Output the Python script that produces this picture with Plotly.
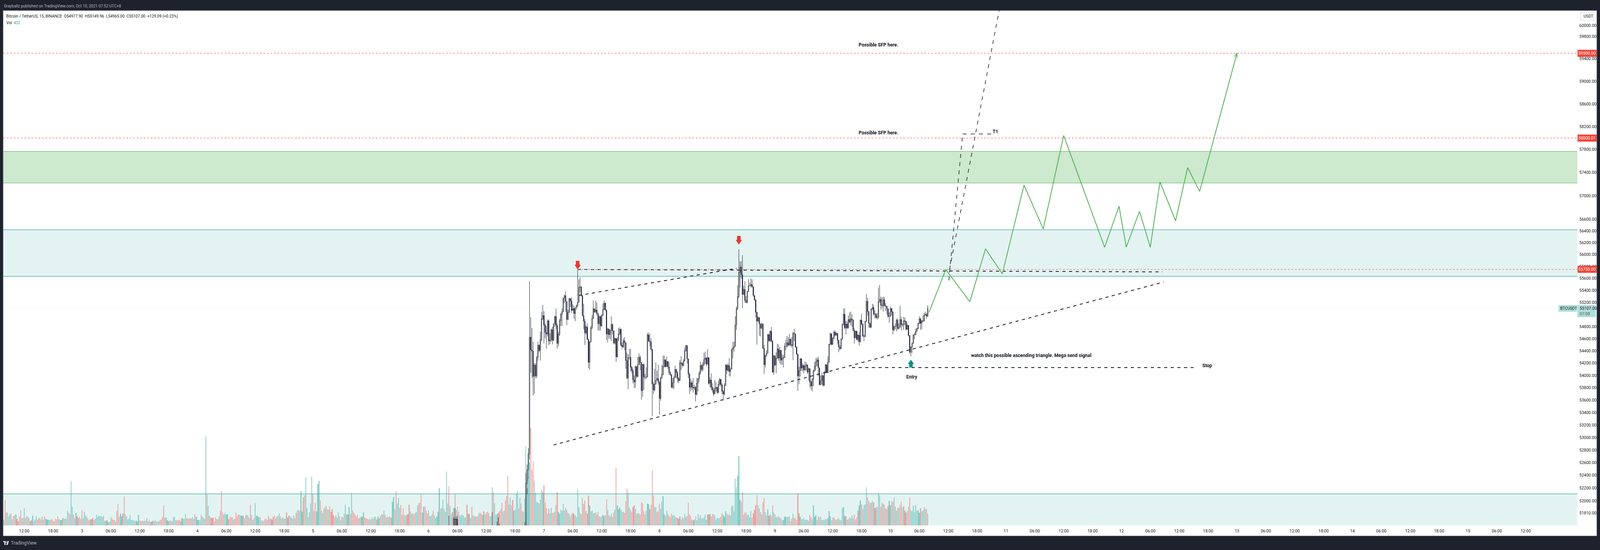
import math
from datetime import datetime, timedelta
import plotly.graph_objects as go

# ---------- chart data ----------
signed_volume_a = [
216,-922,475,-475,331,403,-446,230,-331,-360,403,-245,-158,-317,-562,259,-274,634,-274,-331,
331,259,-158,-187,360,-158,216,346,-216,-259,-274,202,-331,-202,-331,245,216,202,202,-216,
-230,-173,144,-245,-216,-331,230,202,202,-274,259,245,-245,547,-461,418,1627,691,-389,288,
461,-346,-274,317,-245,-576,259,504,374,-317,-245,-187,216,-230,-274,-187,245,389,317,360,
346,346,-302,346,173,173,-187,115,144,302,-245,-202,-202,144,-533,-792,-317,432,331,-446,
-1066,418,331,216,245,389,202,202,187,-158,173,144,389,-187,-158,-173,158,158,-187,274,
-144,-216,130,144,-173,158,-187,144,130,158,-187,-216,-317,-734,288,-288,187,158,187,-158,
-158,317,302,187,-187,-202,-202,158,-274,245,245,418,-259,-259,-245,274,-259,302,-230,-418,
317,202,202,173,389,317,-288,-245,3269,-1138,720,-346,-288,-274,-288,144,-302,-230,-230,331,
-547,-1267,-475,-403,461,403,403,-230,-317,-302,-302,216,-245,-475,-346,-403,-389,360,360,-346,
-274,374,-389,346,-274,-763,389,-202,-274,821,360,346,302,-302,173,187,-158,-230,-245,187,
-360,-274]
signed_volume_b = [
-240,216,-312,-360,-264,312,-360,432,-336,240,298,-240,240,-480,288,-360,336,288,-264,360,
-264,456,-552,576,-552,1248,504,-1042,-1104,1771,648,-312,480,806,1800,-1152,-528,-840,518,1512,
1642,-917,552,456,-624,658,-720,-586,576,-706,-504,-610,-374,-322,360,288,475,-326,187,-312,
-288,432,768,398,-408,677,-418,1195,-566,-480,-384,-336,-384,-264,288,312,-312,480,-288,-264,
-240,216,-240,-216,288,-240,312,312,-216,336,264,-360,-408,408,552,-384,288,-312,-312]
signed_volume_c = [
331,-288,864,1037,-590,-1267,806,1008,648,-749,
-389,-619,389,360,-389,-418,-763,518,418,-446,
-403,-461,490,749,-821,-835,-1152,475,691,-706,
-533,-446,547,-346,346,403,-547,360,274,331,
504,1368,-619,648,950,-605,504,1987,806,-1440,
720,432,-490,648,-1166,576,-691,-504,360,374,
389,360,302,302,-763,-432,418,274,-691,-374,
331,331,-331,-331,446,-461,-432,389,-518,403,
-475,-504,-461,360,331,1411,-1224,821,389,418,
-461,-518,-590,-835,518,547,-922,-1094,-1829,778,
1037,-749,-936,547,590,1166,1267,-634,1022,-806,
-518,504,994,2923,1368,1757,2328,-3586,-2045,-2362,
1642,1210,864,835,-806,950,1325,1238,-1469,-850,
-634,432,-619,446,648,-461,-461,504,-763,-1224,
490,432,576,547,792,547,-648,-562,461,432,
-317,-403,-461,-418,374,302,1325,677,446,-418,
-1008,-792,-922,533,-432,-1094,734,518,562,446,
-446,475,-403,-504,331,-317,331,389,346,-389,
-965,576,-374,331,418,-317,-475,576,-2117,734,
590,662,576,-490,504,-461,-893,-1354,1210,662,
-576,-490,-677,-734,605,-432,461,446,-403,-864,
-821,-533,-403,547,806,778,-605,-763,-2030,-1094,
677,677,-490,-518]
signed_volume_d = [
-806,605,878,1080,403,-360,547,-418,-346,-302,
-432,374,374,331,-288,-274,-245,331,-216,-302,
259,432,317,-346,-850,-403,-346,216,-187,216,
-331,187,418,274,374,-259,259,288,389,202,
-403,-403,418,-331,-418,-418,360,216,288,259,
259,-317,-446,389,317,518,-432,389,-403,360,
691,734,504,1728,1411,1829,2549,936,-878,-1238,
389,-475,-475,389,403,302,533,-288,-446,-576,
-749,-1109,734,-619,-490,403,-864,-1022,490,-360,
590,-346,403,-346,-734,475,403,317,302,-346,
288,-259,187,202,317,317,302,-317,331,-158,
-245,432,-274,-274,-187,-1181,-446,317,230,230,
-274,202,216,202,173,-389,-302,230,734,317,
374,202,-331,-288,317,202,-216,202,245,-230,
274,533,331,-187,-288,302,-230,202,-245,-259,
202,187,634,677,-360,331,-216,230,-302,259,
374,-259,-403,216,-288,-547,734,922,-778,-605,
749,778,1411,-1022,-907,-821,835,893,-850,-634,
662,-691,1195,1109,-691,-850,792,-763,-619,605,
-720,907,749,-893,-864,1037,691,547,-648,648,
-749,-878,-662,706,-547,-475,533,-691,-1022,547,
547,734,490,749,547,562,461,-634,518,562,
677,-605,-605,432]

early_times = ["2021-10-06 04:15","2021-10-06 05:15","2021-10-06 05:30","2021-10-06 05:45","2021-10-06 06:00",
               "2021-10-06 13:15","2021-10-06 14:15","2021-10-06 14:30","2021-10-06 14:45",
               "2021-10-06 20:00","2021-10-06 20:15","2021-10-06 20:30","2021-10-06 20:45"]
early_open  = [51500,51500,51600,51600,51715,51520,51480,51490,51470,51400,51500,52270,52487]
early_high  = [51768,51743,51882,51750,51768,51822,51674,51740,51640,51668,52440,52570,52830]
early_low   = [51380,51400,51450,51450,51400,51350,51350,51350,51350,51300,51480,52100,52350]
early_close = [51450,51715,51715,51715,51500,51450,51420,51430,51420,51500,52270,52487,52738]

first_open = 52738
closes = [
54626,54417,54393,53983,54169,53990,54292,54496,54406,54587,
54926,54982,54824,54701,54675,54893,54561,54583,54749,54572,
54846,54965,54820,54522,54673,54895,55003,55046,55273,55312,
55213,54917,55036,55262,55223,55068,55100,55014,55111,55143,
55202,55450,55461,55312,54982,54889,54695,54794,54587,54212,
54546,54781,54932,55094,55040,55075,55010,54846,54965,54809,
54988,55085,55187,55075,54675,54760,54665,54734,54835,54729,
54529,54604,54302,54593,54684,54755,54492,54464,54568,54535,
54242,53957,54292,54296,54134,54076,53929,53893,54141,53983,
54173,54296,54212,53752,54179,53972,53968,53972,54662,54557,
54550,54425,53860,53763,53860,53920,53951,53890,53625,53957,
54018,54147,54255,54141,54227,54141,54048,54011,53806,53882,
53964,54097,54048,53946,53914,54205,54194,54162,54238,54406,
54486,54270,54022,
53806,53882,53806,53795,53806,53690,53871,53946,54039,54162,
54097,54173,54259,54281,54184,54292,53871,53925,53806,53763,
53698,53785,53806,53720,53860,53936,53849,53741,53698,53839,
54166,54082,54162,54061,54102,54421,54449,54475,54826,55094,
55295,55700,55791,55661,55331,55417,55234,55198,55385,55474,
55478,55499,55461,55316,55241,55036,54885,54949,54842,54773,
54842,54443,54173,54324,54361,54665,54566,54723,54561,54054,
54320,54169,54281,54432,54281,54410,54248,54281,54292,54475,
54475,54535,54492,54593,54501,54486,54690,54680,54464,54345,
53990,54076,54270,54119,54162,54087,54151,54173,54054,54108,
53893,53828,53936,54076,54151,54223,54255,54125,53849,53914,
53999,53839,54043,54173,54043,54216,54507,54680,54507,54604,
54708,54658,54690,54572,54464,54436,54593,54831,55003,54777,
54842,54777,54917,54874,54928,54911,54734,54615,54723,54587,
54658,54550,54906,54842,54643,54637,54885,55219,55046,54852,
54788,55090,55118,55010,55003,54949,54960,55213,55251,55154,
55143,55245,55143,55133,55096,54967,54971,55100,55046,54745,
54798,54803,54906,54766,54788,54917,54831,54824,54895,54885,
54755,54820,54652,54378,54464,54522,54662,54665,54723,54766,
54852,54928,54852,54895,54889,54988,55003,54971,55107]
highs = [
55553,54956,54777,54550,54205,54195,54320,54550,54496,54716,
55042,55159,55053,54852,54814,54917,54917,54690,54766,54798,
54852,54982,55100,54852,54712,54928,55025,55100,55273,55331,
55385,55219,55079,55273,55273,55284,55165,55143,55122,55165,
55743,55586,55618,55467,55327,55176,54928,54820,54852,54604,
54561,54809,54993,55230,55100,55230,55198,55025,54982,54982,
55003,55180,55234,55198,55079,54777,54766,54755,54971,54852,
54734,54615,54604,54626,54777,54788,54766,54539,54604,54626,
54539,54367,54345,54432,54432,54151,54108,53999,54162,54151,
54302,54361,54324,54216,54184,54195,54022,54130,54697,54701,
54686,54604,54432,53893,54108,54212,54076,54173,53914,53979,
54173,54324,54324,54263,54302,54238,54216,54065,54022,53957,
53990,54156,54108,54065,53968,54248,54313,54216,54270,54453,
54496,54496,54270,
54043,53947,53914,53957,53849,53828,53957,53957,54065,54227,
54184,54216,54367,54389,54302,54428,54292,53968,54033,53871,
53806,53925,53893,53817,53914,53957,53946,53871,53763,53871,
54184,54184,54194,54281,54130,54443,54550,54550,54971,55133,
55489,56088,55888,55888,55991,55478,55553,55305,55387,55586,
55532,55597,55586,55467,55316,55251,55046,54971,54939,54852,
54863,54852,54496,54345,54410,54680,54690,54734,54794,54572,
54335,54324,54378,54518,54507,54464,54421,54345,54335,54529,
54583,54647,54626,54680,54604,54626,54712,54766,54680,54475,
54356,54141,54281,54281,54194,54184,54227,54216,54173,54130,
54119,53914,53957,54097,54216,54281,54292,54302,54130,53999,
54043,53999,54065,54184,54184,54313,54518,54701,54690,54626,
54734,54734,54712,54690,54583,54496,54604,54852,55100,55100,
54895,54885,54982,55036,55046,55003,54917,54777,54734,54734,
54669,54712,54917,55014,54852,54669,54895,55338,55273,55057,
54863,55100,55176,55165,55068,55025,55025,55446,55489,55295,
55284,55295,55284,55187,55143,55100,55036,55133,55100,55046,
54820,54852,54928,54939,54852,55148,54960,54852,54960,54949,
54895,54852,54831,54658,54475,54539,54669,54701,54766,54781,
54863,54971,54949,54906,54982,55025,55046,55025,55150]
lows = [
52650,54043,53957,53677,53700,53957,53957,54238,54378,54242,
54561,54906,54522,54604,54436,54637,54496,54507,54550,54507,
54561,54798,54755,54436,54475,54647,54809,54809,55036,55187,
55046,54820,54906,55025,55122,55025,55057,54928,54889,55079,
55122,55198,55370,55295,54971,54755,54496,54669,54583,54119,
54097,54539,54755,54928,55025,55025,54982,54734,54734,54734,
54798,54971,55068,55057,54578,54539,54604,54593,54561,54669,
54507,54507,54222,54292,54561,54658,54475,54432,54453,54410,
54108,53936,53774,54259,54065,54033,53871,53795,53795,53957,
53968,54173,54086,53606,53655,53763,53936,53936,53968,54550,
54475,54410,53340,53698,53741,53849,53914,53849,53366,53590,
53946,53999,54130,54130,54141,54108,54011,53990,53795,53785,
53780,53957,53957,53882,53871,53914,54086,54130,54151,54227,
54389,54194,53957,
53698,53741,53763,53720,53763,53580,53677,53741,53893,54011,
54065,54065,54151,54184,54151,54173,53849,53806,53763,53720,
53664,53698,53741,53698,53720,53828,53817,53698,53593,53677,
53828,54022,54065,53990,53979,54097,54281,54389,54464,54745,
55079,55273,55446,55596,55105,55327,55198,55187,55187,55370,
55467,55446,55446,55295,55230,54949,54501,54885,54647,54637,
54755,54432,54022,54130,54302,54356,54550,54550,54539,54043,
54011,54151,54033,54270,54238,54194,54173,54173,54130,54281,
54410,54453,54475,54486,54475,54453,54248,54561,54453,54335,
53752,53860,53979,54076,54065,54033,54076,54076,54022,53914,
53806,53763,53741,53828,54065,54086,54151,53990,53839,53839,
53849,53817,53828,54033,54033,54043,54205,54496,54486,54496,
54593,54637,54647,54507,54378,54410,54432,54583,54820,54755,
54669,54755,54766,54852,54820,54798,54723,54518,54604,54572,
54550,54486,54539,54820,54626,54561,54626,54874,54982,54777,
54777,54777,55068,54982,54939,54928,54917,54928,55198,55079,
55100,55046,55133,55057,55003,54949,54863,54960,54982,54669,
54723,54755,54723,54745,54755,54788,54734,54798,54745,54820,
54734,54745,54637,54356,54313,54367,54518,54593,54658,54712,
54755,54842,54745,54755,54874,54885,54982,54928,54960]

last_bar_time = "2021-10-10 07:45"

price_ticks = [60000,59800,59400,59000,58600,58200,57800,57400,57000,56600,56400,56200,56000,55800,
               55600,55400,55200,54800,54600,54400,54200,54000,53800,53600,53400,53200,53000,52800,
               52600,52400,52200,52000,51810]
time_tick_values = []
time_tick_labels = []
for day in range(2, 16):
    for hour, lab in ((0, str(day)), (6, "06:00"), (12, "12:00"), (18, "18:00")):
        if (day, hour) != (15, 18):
            time_tick_values.append(f"2021-10-{day:02d} {hour:02d}:00")
            time_tick_labels.append(lab)

sfp_upper, sfp_lower, resistance_level = 59500, 58000.01, 55750
last_price = 55107
green_zone = (57220, 57767)
teal_zone = (55635, 56420)
volume_zone_top = 52108

forecast_times = ["2021-10-10 08:00","2021-10-10 11:30","2021-10-10 16:30","2021-10-10 19:45","2021-10-10 23:15",
                  "2021-10-11 03:45","2021-10-11 07:45","2021-10-11 12:00","2021-10-11 20:30","2021-10-11 23:30",
                  "2021-10-12 01:00","2021-10-12 03:45","2021-10-12 06:00","2021-10-12 08:00","2021-10-12 11:15",
                  "2021-10-12 13:45","2021-10-12 16:15","2021-10-13 00:00"]
forecast_prices = [55032,55750,55210,56097,55677,57183,56435,58044,56124,56821,
                   56124,56734,56124,57237,56574,57486,57076,59500]

dashed_lines = {
    "resistance": (["2021-10-07 07:00", "2021-10-12 08:30"], [55750, 55709]),
    "inner":      (["2021-10-07 07:15", "2021-10-08 16:00"], [55316, 55769]),
    "trend":      (["2021-10-07 02:00", "2021-10-12 08:45"], [52881, 55539]),
    "stop":       (["2021-10-09 16:00", "2021-10-12 15:00"], [54128, 54128]),
}
steep_lines = {
    "t1_up":    (["2021-10-10 12:08", "2021-10-10 15:00"], [55566, 58071]),
    "t1_flat":  (["2021-10-10 15:00", "2021-10-10 21:07"], [58071, 58071]),
    "moon":     (["2021-10-10 12:17", "2021-10-10 23:00"], [55750, 60461]),
}
notes = [
    ("Possible SFP here.", "2021-10-09 21:28", 59649),
    ("Possible SFP here.", "2021-10-09 21:28", 58092),
    ("T1", "2021-10-10 21:45", 58112),
    ("watch this possible ascending triangle. Mega send signal", "2021-10-11 05:13", 54324),
    ("Entry", "2021-10-10 04:26", 53975),
    ("Stop", "2021-10-12 17:50", 54159),
]
down_arrows = [("2021-10-07 07:00", 55750), ("2021-10-08 16:30", 56170)]
up_arrows = [("2021-10-10 04:15", 54257)]

# ---------- layout constants ----------
# The browser viewport is capped at 4096 px wide, so horizontal positions
# measured on the 5339 px reference are scaled by SX.
W, H = 4096, 1408
REF_W = 5339
SX = W / REF_W
L, R, T, B = 10, 5263, 27, 1345
DARK = "#1e222d"
TEAL = "rgba(38,166,154,0.5)"
RED = "rgba(239,83,80,0.5)"
FONT = "Roboto"
px = lambda x: (x - L) / (R - L)
py = lambda y: (B - y) / (B - T)
y_min, y_max = 51616, 60269

signed_volume = signed_volume_a + signed_volume_b + signed_volume_c + signed_volume_d
end = datetime.strptime(last_bar_time, "%Y-%m-%d %H:%M")
n = len(signed_volume)
vol_times = [end - timedelta(minutes=15 * (n - 1 - i)) for i in range(n)]
candle_times = [end - timedelta(minutes=15 * (len(closes) - 1 - i)) for i in range(len(closes))]
opens = [first_open] + closes[:-1]

fig = go.Figure()
fig.add_trace(go.Bar(x=vol_times, y=[abs(v) for v in signed_volume],
                     marker=dict(color=[TEAL if v > 0 else RED for v in signed_volume], line_width=0),
                     width=650000, yaxis="y", hoverinfo="skip"))
fig.add_trace(go.Candlestick(
    x=[datetime.strptime(t, "%Y-%m-%d %H:%M") for t in early_times] + candle_times,
    open=early_open + opens, high=early_high + highs, low=early_low + lows, close=early_close + closes,
    yaxis="y2", whiskerwidth=0, hoverinfo="skip",
    increasing=dict(line=dict(color="#131722", width=1), fillcolor="#ffffff"),
    decreasing=dict(line=dict(color="#131722", width=1), fillcolor="#1a1a7e")))
for xs, ys in dashed_lines.values():
    fig.add_trace(go.Scatter(x=xs, y=ys, yaxis="y2", mode="lines", hoverinfo="skip",
                             line=dict(color="#131722", width=2, dash="8px,9px")))
for xs, ys in steep_lines.values():
    fig.add_trace(go.Scatter(x=xs, y=ys, yaxis="y2", mode="lines", hoverinfo="skip",
                             line=dict(color="#131722", width=1.5, dash="10px,11px")))
fig.add_trace(go.Scatter(x=forecast_times, y=forecast_prices, yaxis="y2", mode="lines", hoverinfo="skip",
                         line=dict(color="#4caf50", width=2)))

shapes = [
    dict(type="rect", xref="paper", yref="paper", x0=px(10), x1=px(5328), y0=py(1372), y1=py(27),
         fillcolor="#ffffff", line=dict(color="#787b86", width=1), layer="below"),
]
def zone(lo, hi, fill, edge, top_only=False):
    shapes.append(dict(type="rect", xref="paper", yref="y2", x0=0, x1=1, y0=lo, y1=hi,
                       fillcolor=fill, line_width=0, layer="below"))
    levels = [hi] if top_only else [lo, hi]
    for lv in levels:
        shapes.append(dict(type="line", xref="paper", yref="y2", x0=0, x1=1, y0=lv, y1=lv,
                           line=dict(color=edge, width=1), layer="below"))
zone(*green_zone, "rgba(76,175,80,0.28)", "#4caf50")
zone(*teal_zone, "rgba(0,150,136,0.11)", "#009688")
zone(y_min, volume_zone_top, "rgba(0,150,136,0.11)", "#009688", top_only=True)
for lv in (sfp_upper, sfp_lower):
    shapes.append(dict(type="line", xref="paper", yref="y2", x0=0, x1=1, y0=lv, y1=lv,
                       line=dict(color="#f44336", width=1, dash="5px,4px")))
shapes.append(dict(type="line", xref="x", yref="y2", x0="2021-10-07 07:00", x1="2021-10-15 22:44",
                   y0=resistance_level, y1=resistance_level, line=dict(color="#f44336", width=1, dash="5px,4px")))
shapes.append(dict(type="line", xref="paper", yref="y2", x0=0, x1=1, y0=last_price, y1=last_price,
                   line=dict(color="#b2dfdb", width=1, dash="1px,2px")))
for t, p in down_arrows:
    shapes.append(dict(type="path", xref="x", yref="y2", xsizemode="pixel", ysizemode="pixel",
                       xanchor=t, yanchor=p, fillcolor="#e53935", line_width=0,
                       path="M-4.6,22 L4.6,22 L4.6,12 L8,12 L0,0 L-8,12 L-4.6,12 Z"))
for t, p in up_arrows:
    shapes.append(dict(type="path", xref="x", yref="y2", xsizemode="pixel", ysizemode="pixel",
                       xanchor=t, yanchor=p, fillcolor="#009688", line_width=0,
                       path="M-4.6,-20 L4.6,-20 L4.6,-11 L8,-11 L0,0 L-8,-11 L-4.6,-11 Z"))
shapes.append(dict(type="path", xref="x", yref="y2", xsizemode="pixel", ysizemode="pixel",
                   xanchor=forecast_times[-1], yanchor=forecast_prices[-1],
                   line=dict(color="#4caf50", width=1.5), path="M1,-12 L0,0 L-6.5,-8.5"))
# TradingView logo glyph in the footer
shapes.append(dict(type="path", xref="paper", yref="paper", xsizemode="pixel", ysizemode="pixel",
                   xanchor=px(10), yanchor=py(1395), fillcolor="#d1d4dc", line_width=0,
                   path="M0,10 L6.5,10 L6.5,0 L3,0 L3,7 L0,7 Z M11,10 L15,10 L12,0 L8,0 Z M7,8.5 L9.5,8.5 L9.5,6 L7,6 Z"))

ann = []
def label(text, x, y, size=10.5, color="#131722", anchor="left", **kw):
    ann.append(dict(text=text, xref="paper", yref="paper", x=px(x), y=py(y), showarrow=False,
                    xanchor=anchor, yanchor="middle", font=dict(family=FONT, size=size, color=color), **kw))
label("Grayballz published on TradingView.com, Oct 10, 2021 07:52 UTC+8", 10, 15, 10, "#b2b5be")
label("Bitcoin / TetherUS, 15, BINANCE\u00a0\u00a0O54977.90\u00a0\u00a0H55149.96\u00a0\u00a0L54965.00\u00a0\u00a0C55107.00\u00a0\u00a0+129.09 (+0.23%)", 18, 42, 10)
label("Vol", 18, 59, 10)
label("432", 42, 59, 10, "#26a69a")
label("TradingView", 33, 1390, 12, "#b2b5be")

for text, t, p in notes:
    ann.append(dict(text=f"<b>{text}</b>", xref="x", yref="y2", x=t, y=math.log10(p), showarrow=False,
                    xanchor="center", yanchor="middle", font=dict(family=FONT, size=12, color="#131722")))
def tag(text, p, fill, color="#ffffff"):
    ann.append(dict(text=text, xref="paper", yref="y2", x=px(5263), y=math.log10(p), showarrow=False,
                    xanchor="left", yanchor="middle", width=62 * SX, height=17, bgcolor=fill, borderpad=0,
                    align="center", font=dict(family=FONT, size=10.5, color=color)))
tag("59500.00", sfp_upper, "#f44336")
tag("58000.01", sfp_lower, "#f44336")
tag("55750.00", resistance_level, "#f44336")
shapes.append(dict(type="rect", xref="paper", yref="paper", x0=px(5263), x1=px(5325), y0=py(812), y1=py(781),
                   fillcolor="#b2dfdb", line_width=0, layer="above"))
shapes.append(dict(type="rect", xref="paper", yref="paper", x0=px(5200), x1=px(5262), y0=py(798), y1=py(781),
                   fillcolor="#b2dfdb", line_width=0, layer="above"))
shapes.append(dict(type="rect", xref="paper", yref="paper", x0=px(5274), x1=px(5317), y0=py(52), y1=py(33),
                   fillcolor="#ffffff", line=dict(color="#d1d4dc", width=1), layer="above"))
label("55107.00", 5268, 789)
label("07:08", 5268, 803, 10.5, "#4a5a58")
label("BTCUSDT", 5203, 789, 10)
label("USDT", 5281, 42, 10)

fig.update_layout(
    width=W, height=H, autosize=False, showlegend=False,
    paper_bgcolor=DARK, plot_bgcolor="#ffffff", bargap=0,
    margin=dict(l=L * SX, r=(REF_W - R) * SX, t=T, b=H - B, pad=0),
    hovermode=False, shapes=shapes, annotations=ann,
    xaxis=dict(type="date", range=["2021-10-02 07:37", "2021-10-15 22:44"], showgrid=False, zeroline=False,
               rangeslider=dict(visible=False), tickmode="array", tickvals=time_tick_values,
               ticktext=time_tick_labels, ticks="", ticklabelstandoff=6,
               tickfont=dict(family=FONT, size=10.5, color="#131722"), showline=False),
    yaxis=dict(range=[0, 14.4 * (B - T)], visible=False, fixedrange=True),
    yaxis2=dict(type="log", range=[math.log10(y_min), math.log10(y_max)], overlaying="y", side="right",
                showgrid=False, zeroline=False, tickmode="array", tickvals=price_ticks,
                ticktext=[f"{v:.2f}" for v in price_ticks], ticks="", ticklabelstandoff=4,
                tickfont=dict(family=FONT, size=10.5, color="#131722"), showline=False),
)
fig.write_html("out.html", config=dict(displayModeBar=False, staticPlot=True),
               post_script="document.body.style.margin='0';document.body.style.background='#1e222d';document.documentElement.style.overflow='hidden';")
